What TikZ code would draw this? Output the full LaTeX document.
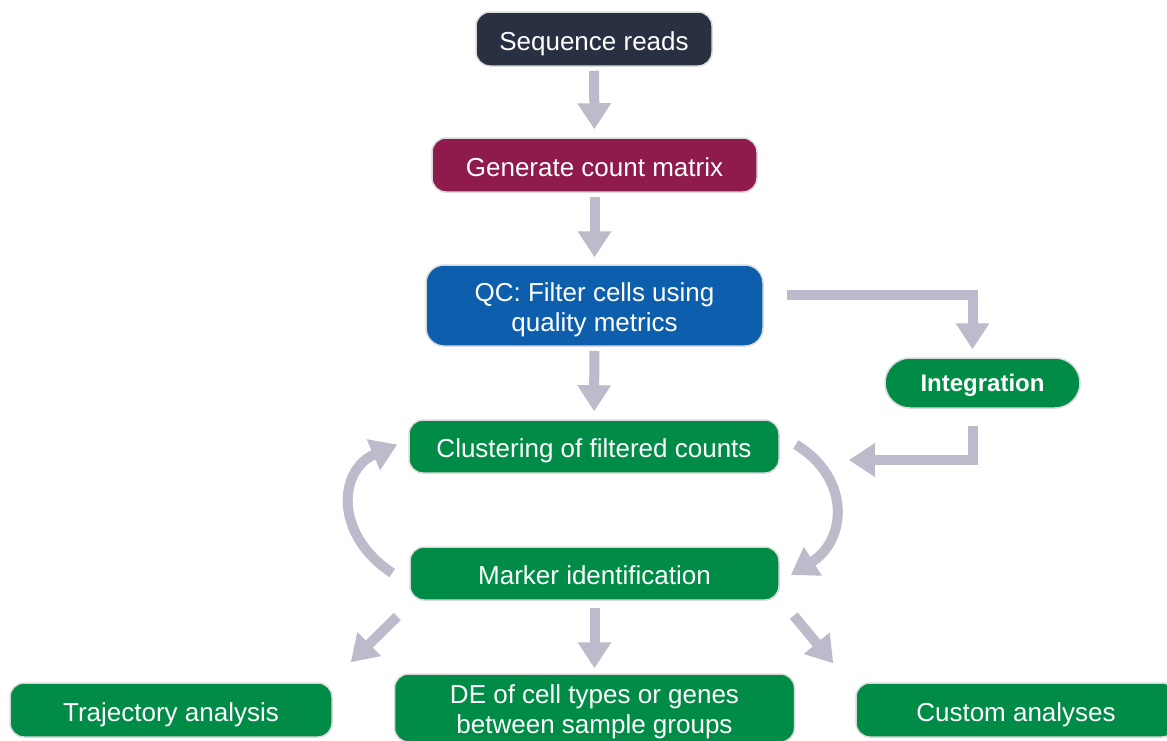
\documentclass[tikz,border=0pt]{standalone}
\usepackage{fontspec}
\setmainfont{Liberation Sans}
\usetikzlibrary{arrows.meta,calc}
\definecolor{navy}{HTML}{283042}
\definecolor{maroon}{HTML}{8E1B4B}
\definecolor{qcblue}{HTML}{0D5EAD}
\definecolor{grn}{HTML}{008C46}
\definecolor{arrowgray}{HTML}{BBBBCC}
\definecolor{edge}{HTML}{DADADA}
\tikzset{
  box/.style={draw=edge, line width=1.5pt, rounded corners=14pt, text=white,
    font=\fontsize{26}{30}\selectfont, align=center, inner sep=0pt,
    text height=24pt, text depth=2pt},
  twoline/.style={text height=55pt, text depth=4pt},
  arr/.style={draw=arrowgray, line width=10pt,
    -{Triangle[width=32pt,length=26pt]}},
  flow/.style={arr, shorten <=4pt}
}
\newcommand{\twolines}[2]{\begin{tabular}[b]{@{}c@{}}#1\\#2\end{tabular}}
\begin{document}
\begin{tikzpicture}[x=1pt,y=-1pt]
\useasboundingbox (0,0) rectangle (1167,740);
\clip (0,0) rectangle (1167,740);
\fill[white] (0,0) rectangle (1167,740);

\node[box, fill=navy, minimum width=236pt, minimum height=54pt] (seq) at (594,39) {Sequence reads};
\node[box, fill=maroon, minimum width=325pt, minimum height=54pt] (gen) at (594.5,165) {Generate count matrix};
\node[box, twoline, fill=qcblue, minimum width=337pt, minimum height=81pt, rounded corners=18pt] (qc) at (594.5,305.5) {\twolines{QC: Filter cells using}{quality metrics}};
\node[box, fill=grn, minimum width=195pt, minimum height=50pt, rounded corners=25pt, font=\fontsize{24}{28}\selectfont\bfseries, text height=20pt, text depth=3pt] (int) at (982.5,383) {Integration};
\node[box, fill=grn, minimum width=370pt, minimum height=53pt] (clu) at (594,446.5) {Clustering of filtered counts};
\node[box, fill=grn, minimum width=369pt, minimum height=53pt] (mark) at (594.5,573.5) {Marker identification};
\node[box, fill=grn, minimum width=322pt, minimum height=54pt] (traj) at (171,710) {Trajectory analysis};
\node[box, twoline, fill=grn, minimum width=400pt, minimum height=68pt] (de) at (594.5,708) {\twolines{DE of cell types or genes}{between sample groups}};
\node[box, fill=grn, minimum width=320pt, minimum height=54pt] (cust) at (1016,710) {Custom analyses};

% main vertical flow
\draw[flow, shorten >=8pt] (seq) -- (gen);
\draw[flow, shorten >=7pt] (gen) -- (qc);
\draw[flow, shorten >=8pt] (qc) -- (clu);

% to and from integration
\coordinate (qcout) at (787,295);
\draw[arr, shorten >=8pt] (qcout) -| ([xshift=-10pt]int.north);
\draw[arr] ($(int.south)+(-10,17)$) |- ($(clu.east)+(69,13.5)$);

% cycle between clustering and marker identification
\draw[arr] ($(clu.east)+(16,-2)$) .. controls (851,478) and (847,540) .. ($(mark.east)+(11,1.5)$);
\draw[arr] ($(mark.west)+(-17,-0.5)$) .. controls (334,535) and (338,470) .. ($(clu.west)+(-11,-2)$);

% downstream analyses
\draw[arr] ($(mark.west)+(-12,43)$) -- ($(traj.north east)+(18,-20)$);
\draw[arr, shorten <=7pt, shorten >=5pt] (mark) -- (de);
\draw[arr] ($(mark.east)+(14,42)$) -- ($(cust.north west)+(-22,-19)$);
\end{tikzpicture}
\end{document}
